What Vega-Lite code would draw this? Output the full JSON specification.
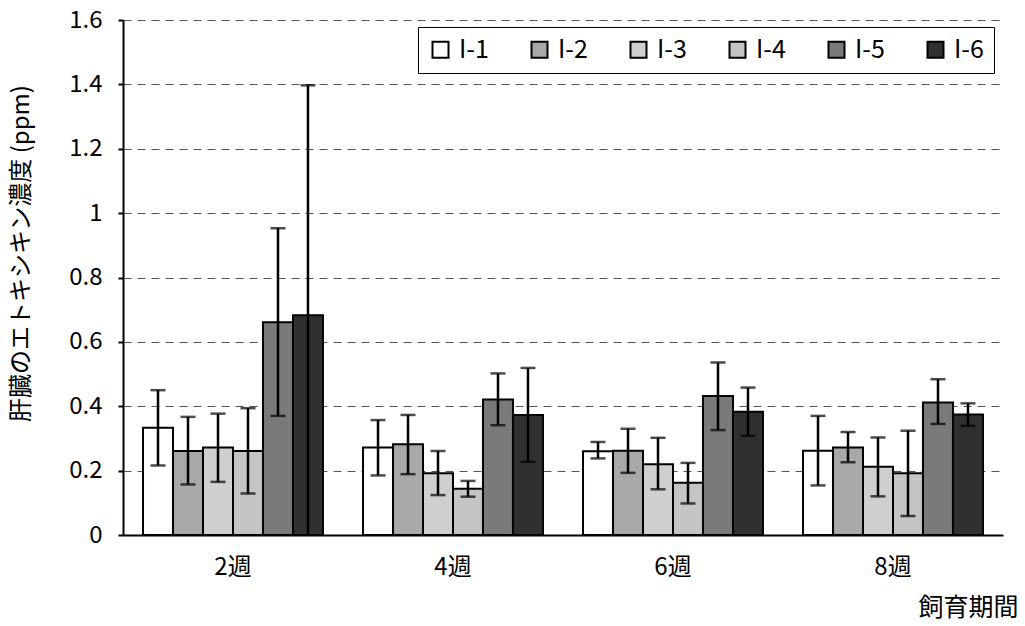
{
  "$schema": "https://vega.github.io/schema/vega-lite/v6.json",
  "width": 880,
  "height": 515,
  "autosize": "none",
  "padding": {"left": 123, "top": 20, "right": 22, "bottom": 91},
  "background": "white",
  "config": {
    "font": "Noto Sans CJK JP",
    "view": {"stroke": null}
  },
  "data": {
    "values": [
      {"week": "2週", "group": "I-1", "mean": 0.333, "lo": 0.216, "hi": 0.450},
      {"week": "2週", "group": "I-2", "mean": 0.261, "lo": 0.157, "hi": 0.367},
      {"week": "2週", "group": "I-3", "mean": 0.272, "lo": 0.165, "hi": 0.377},
      {"week": "2週", "group": "I-4", "mean": 0.261, "lo": 0.129, "hi": 0.394},
      {"week": "2週", "group": "I-5", "mean": 0.661, "lo": 0.370, "hi": 0.953},
      {"week": "2週", "group": "I-6", "mean": 0.683, "lo": 0.0, "hi": 1.397},
      {"week": "4週", "group": "I-1", "mean": 0.272, "lo": 0.185, "hi": 0.357},
      {"week": "4週", "group": "I-2", "mean": 0.282, "lo": 0.189, "hi": 0.373},
      {"week": "4週", "group": "I-3", "mean": 0.192, "lo": 0.124, "hi": 0.261},
      {"week": "4週", "group": "I-4", "mean": 0.144, "lo": 0.119, "hi": 0.168},
      {"week": "4週", "group": "I-5", "mean": 0.421, "lo": 0.341, "hi": 0.502},
      {"week": "4週", "group": "I-6", "mean": 0.373, "lo": 0.227, "hi": 0.519},
      {"week": "6週", "group": "I-1", "mean": 0.260, "lo": 0.238, "hi": 0.289},
      {"week": "6週", "group": "I-2", "mean": 0.262, "lo": 0.193, "hi": 0.330},
      {"week": "6週", "group": "I-3", "mean": 0.220, "lo": 0.142, "hi": 0.302},
      {"week": "6週", "group": "I-4", "mean": 0.162, "lo": 0.098, "hi": 0.224},
      {"week": "6週", "group": "I-5", "mean": 0.432, "lo": 0.326, "hi": 0.536},
      {"week": "6週", "group": "I-6", "mean": 0.383, "lo": 0.308, "hi": 0.458},
      {"week": "8週", "group": "I-1", "mean": 0.262, "lo": 0.154, "hi": 0.370},
      {"week": "8週", "group": "I-2", "mean": 0.272, "lo": 0.226, "hi": 0.320},
      {"week": "8週", "group": "I-3", "mean": 0.212, "lo": 0.120, "hi": 0.303},
      {"week": "8週", "group": "I-4", "mean": 0.192, "lo": 0.059, "hi": 0.324},
      {"week": "8週", "group": "I-5", "mean": 0.412, "lo": 0.345, "hi": 0.484},
      {"week": "8週", "group": "I-6", "mean": 0.374, "lo": 0.339, "hi": 0.409}
    ]
  },
  "encoding": {
    "x": {
      "field": "week", "type": "nominal", "sort": null,
      "scale": {"paddingInner": 0.182, "paddingOuter": 0.091},
      "axis": {
        "title": "飼育期間",
        "titleFontSize": 25, "titleFontWeight": "normal", "titleColor": "black",
        "titleAnchor": "end", "titleAlign": "right", "titleBaseline": "middle",
        "titleX": 895, "titleY": 72,
        "labelAngle": 0, "labelFontSize": 24, "labelColor": "black", "labelPadding": 20,
        "domainColor": "black", "domainWidth": 2, "ticks": false, "grid": false
      }
    },
    "xOffset": {"field": "group", "type": "nominal", "sort": null, "scale": {"paddingInner": 0, "paddingOuter": 0}}
  },
  "layer": [
    {
      "mark": {"type": "bar", "stroke": "black", "strokeWidth": 2},
      "encoding": {
        "y": {
          "field": "mean", "type": "quantitative",
          "scale": {"domain": [0, 1.6]},
          "axis": {
            "title": "肝臓のエトキシキン濃度 (ppm)",
            "titleFontSize": 24, "titleFontWeight": "normal", "titleColor": "black",
            "titleX": -102, "titleY": 233, "titleAnchor": "middle", "titleAlign": "center", "titleBaseline": "middle",
            "values": [0, 0.2, 0.4, 0.6, 0.8, 1, 1.2, 1.4, 1.6],
            "format": "~g",
            "labelFontSize": 24, "labelColor": "black", "labelPadding": 16,
            "tickSize": 5, "tickColor": "black", "tickWidth": 2,
            "domainColor": "black", "domainWidth": 2,
            "grid": true, "gridColor": "#555555", "gridDash": [8, 6], "gridWidth": 1.2
          }
        },
        "fill": {
          "field": "group", "type": "nominal", "sort": null,
          "scale": {"range": ["#ffffff", "#a8a8a8", "#cfcfcf", "#c4c4c4", "#7a7a7a", "#303030"]},
          "legend": {
            "title": null, "orient": "none", "direction": "horizontal",
            "legendX": 295, "legendY": 7,
            "strokeColor": "black", "padding": 10,
            "symbolType": "square", "symbolSize": 256, "symbolStrokeColor": "black", "symbolStrokeWidth": 2,
            "labelFontSize": 25, "labelColor": "black", "columnPadding": 38, "labelOffset": 6
          }
        }
      }
    },
    {
      "mark": {"type": "rule", "color": "black", "strokeWidth": 2.5},
      "encoding": {
        "y": {"field": "lo", "type": "quantitative"},
        "y2": {"field": "hi"}
      }
    },
    {
      "mark": {"type": "tick", "color": "black", "thickness": 2.5, "size": 15},
      "encoding": {"y": {"field": "hi", "type": "quantitative"}}
    },
    {
      "mark": {"type": "tick", "color": "black", "thickness": 2.5, "size": 15},
      "transform": [{"filter": "datum.lo > 0"}],
      "encoding": {"y": {"field": "lo", "type": "quantitative"}}
    }
  ]
}
